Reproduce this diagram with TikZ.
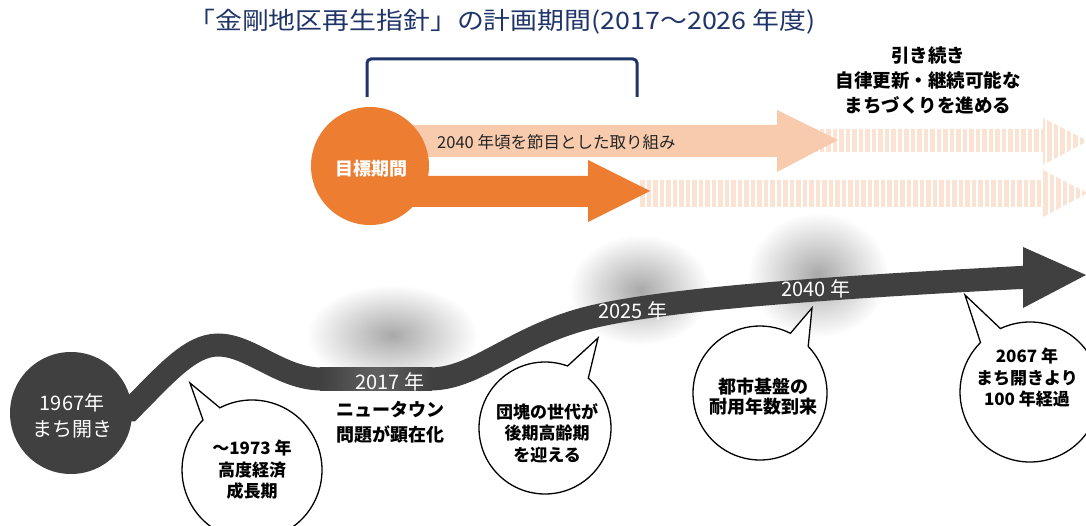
\documentclass[tikz,border=0pt]{standalone}
\usepackage{fontspec}
\setmainfont{Noto Sans CJK JP}
\usetikzlibrary{fadings}
\definecolor{navy}{HTML}{1F3468}
\definecolor{ribbon}{HTML}{404040}
\definecolor{orangeD}{HTML}{ED7D31}
\definecolor{peach}{HTML}{F8CBAD}
\definecolor{peachL}{HTML}{FBE3D4}
\definecolor{txtgray}{HTML}{262626}
\tikzfading[name=fuzzy, inner color=transparent!0, outer color=transparent!100]
\newcommand{\bubblepath}[7]{\draw[bubble] ([shift={(#1,#2)}]#4:#3) arc[start angle=#4, end angle=#5, radius=#3] -- (#6,#7) -- cycle;}
\tikzset{
  bubble/.style={draw=black, fill=white, line width=1.3pt},
  bubtext/.style={align=center, text=black, font=\bfseries\fontsize{17}{21.5}\selectfont, inner sep=0pt},
  ribtext/.style={text=white, font=\fontsize{20}{20}\selectfont, inner sep=0pt},
  blob/.style={fill=black!75, path fading=fuzzy, fill opacity=0.45},
}
\begin{document}
\begin{tikzpicture}[x=1pt,y=-1pt]
\useasboundingbox (0,0) rectangle (1086,526);
\fill[white] (0,0) rectangle (1086,526);

% title and bracket
\node[text=navy, font=\fontsize{24}{24}\selectfont, inner sep=0pt, xscale=1.12, transform shape] (title) at (502,22) {「金剛地区再生指針」の計画期間(2017～2026 年度)};
\draw[navy, line width=3pt, rounded corners=4pt] (367,97) -- (367,59) -- (637,59) -- (637,97);

% striped continuation rows
\begin{scope}
\clip (800,129) rectangle (1043,152) (1043,118) -- (1088,141) -- (1043,165) -- cycle;
\foreach \i in {0,...,45} \fill[peachL] ({800+\i*6.5},110) rectangle ++(4.5,60);
\end{scope}
\begin{scope}
\clip (640,180) rectangle (1043,207) (1043,170) -- (1088,193) -- (1043,217) -- cycle;
\foreach \i in {0,...,70} \fill[peachL] ({640+\i*6.5},160) rectangle ++(4.5,60);
\end{scope}

% peach arrow
\fill[peach] (367,125) -- (777,125) -- (777,110) -- (838,140) -- (777,172) -- (777,157) -- (367,157) -- cycle;
% dark orange arrow
\fill[orangeD] (367,176) -- (588,176) -- (588,160) -- (650,191) -- (588,222) -- (588,207) -- (367,207) -- cycle;
% target circle
\node[circle, fill=orangeD, minimum size=118pt, inner sep=0pt] (goal) at (370,166) {};
\node[text=white, font=\bfseries\fontsize{18}{18}\selectfont, inner sep=0pt] (goaltxt) at (371,169) {目標期間};
\node[anchor=west, text=txtgray, font=\fontsize{16.5}{16.5}\selectfont, inner sep=0pt] (p2040) at (437,142) {2040 年頃を節目とした取り組み};

% top right text
\node[align=center, font=\bfseries\fontsize{18.5}{25}\selectfont, inner sep=0pt] (cont) at (928,80) {引き続き\\自律更新・継続可能な\\まちづくりを進める};

% shadows
\fill[blob] (392,335) ellipse (85 and 50);
\fill[blob] (640,290) ellipse (70 and 55);
\fill[blob] (818,275) ellipse (70 and 62);

% ribbon
\node[circle, fill=ribbon, minimum size=122pt, inner sep=0pt] (start) at (71,413) {};
\draw[ribbon, line width=23pt] (start.center) -- (130,410) .. controls (165,375) and (190,345) .. (218,345) .. controls (250,345) and (280,378) .. (320,379) -- (430,379) .. controls (475,379) and (510,340) .. (580,320) .. controls (650,300) and (820,288) .. (1030,277);
\shade[left color=ribbon, right color=ribbon, middle color=black!62] (320,367.5) rectangle (432,390.5);
\fill[ribbon] (1023,247) -- (1086,275) -- (1023,308) -- cycle;
\coordinate (tip) at (1086,275);

\node[text=white, font=\fontsize{20}{20}\selectfont, inner sep=0pt] (y1967) at (72,403) {1967年};
\node[text=white, font=\fontsize{20}{20}\selectfont, inner sep=0pt] (mb) at (72,429) {まち開き};
\node[ribtext] (y2017) at (390,382) {2017 年};
\node[ribtext] (y2025) at (633,311) {2025 年};
\node[ribtext] (y2040) at (816,289) {2040 年};

\node[align=center, font=\bfseries\fontsize{18}{25}\selectfont, inner sep=0pt] (nt) at (390,422) {ニュータウン\\問題が顕在化};

% bubbles
\bubblepath{252}{470}{70}{242.7}{585.6}{190}{383}
\bubblepath{545}{428}{66}{311}{650}{598}{338}
\bubblepath{760}{393}{67}{316}{657}{812}{308}
\bubblepath{1030}{392}{70}{245}{585}{965}{295}

\node[bubtext] (b1) at (252,470) {～1973 年\\高度経済\\成長期};
\node[bubtext] (b2) at (547,433) {団塊の世代が\\後期高齢期\\を迎える};
\node[bubtext, font=\bfseries\fontsize{18}{20}\selectfont] (b3) at (763,397) {都市基盤の\\耐用年数到来};
\node[bubtext] (b4) at (1027,378) {2067 年\\まち開きより\\100 年経過};
\end{tikzpicture}
\end{document}
